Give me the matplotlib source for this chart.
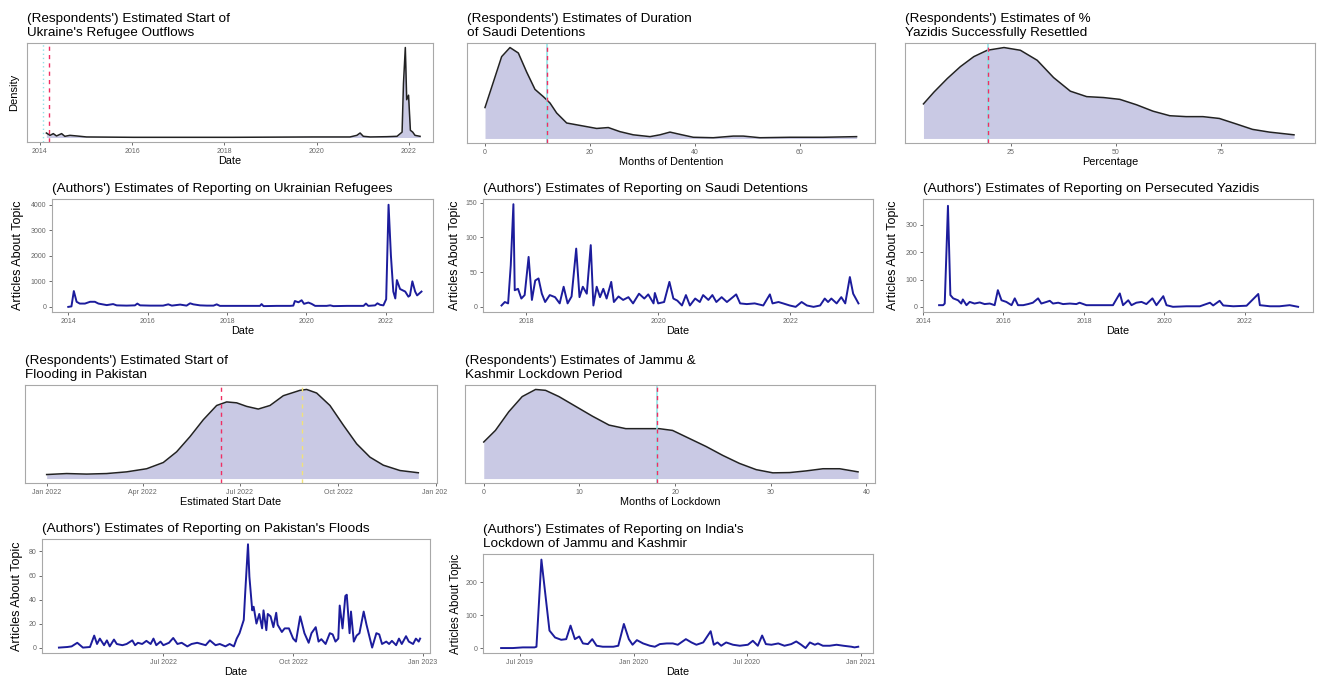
import numpy as np
import matplotlib
matplotlib.use("Agg")
import matplotlib.pyplot as plt
from matplotlib.transforms import Bbox

plt.rcParams['font.family'] = ['Liberation Sans', 'DejaVu Sans']

W, H = 1318, 681

# ---- respondents' density curves (peak scaled to 1) ----
ukr_dens_x = [2014.14, 2014.22, 2014.29, 2014.36, 2014.47, 2014.54, 2014.65, 2014.80, 2015.01, 2016.02,
              2018.19, 2019.93, 2020.72, 2020.87, 2020.94, 2021.01, 2021.16, 2021.52, 2021.74, 2021.85,
              2021.88, 2021.92, 2021.95, 2021.99, 2022.03, 2022.08, 2022.13, 2022.24]
ukr_dens_y = [0.05, 0.024, 0.043, 0.017, 0.043, 0.013, 0.024, 0.017, 0.006, 0.002,
              0.002, 0.006, 0.006, 0.024, 0.05, 0.013, 0.006, 0.009, 0.013, 0.06,
              0.6, 1.0, 0.42, 0.47, 0.08, 0.06, 0.024, 0.013]

saudi_dens_x = [0, 1.59, 3.17, 4.76, 6.35, 7.94, 9.52, 11.11, 12.38, 13.65, 15.56, 17.46, 19.37, 21.27,
                23.49, 25.71, 28.25, 31.43, 33.33, 35.24, 37.14, 39.68, 43.49, 47.3, 49.21, 52.38,
                58.1, 64.44, 70.79]
saudi_dens_y = [0.34, 0.62, 0.90, 1.0, 0.94, 0.73, 0.54, 0.46, 0.39, 0.28, 0.17, 0.15, 0.13, 0.11,
                0.12, 0.075, 0.04, 0.02, 0.04, 0.07, 0.045, 0.013, 0.008, 0.026, 0.026, 0.008,
                0.013, 0.013, 0.02]

yaz_dens_x = [4.2, 6.7, 9.9, 13.0, 16.2, 19.4, 23.4, 27.3, 31.3, 35.2, 39.2, 43.1, 47.1, 51.0,
              55.0, 58.9, 62.9, 66.8, 70.8, 74.7, 78.7, 82.6, 86.6, 92.5]
yaz_dens_y = [0.38, 0.51, 0.66, 0.79, 0.90, 0.97, 1.0, 0.97, 0.86, 0.67, 0.52, 0.46, 0.45, 0.43,
              0.37, 0.30, 0.25, 0.24, 0.24, 0.22, 0.16, 0.10, 0.07, 0.04]

# days since 2022-01-01
pak_dens_x = [0, 18.7, 37.5, 56.2, 74.9, 93.7, 109.3, 121.8, 134.3, 146.8, 159.3, 168.7, 178.0,
              187.4, 198.3, 209.3, 221.8, 237.4, 243.6, 253.0, 265.5, 278.0, 290.5, 303.0, 315.5,
              331.1, 348.3]
pak_dens_y = [0.045, 0.056, 0.05, 0.056, 0.075, 0.11, 0.18, 0.30, 0.47, 0.66, 0.82, 0.86, 0.85,
              0.81, 0.78, 0.82, 0.93, 0.99, 1.0, 0.96, 0.82, 0.60, 0.39, 0.24, 0.15, 0.09, 0.065]

kash_dens_x = [0, 1.22, 2.62, 4.02, 5.42, 6.46, 7.86, 9.61, 11.36, 13.1, 14.85, 16.6, 18.34, 19.74,
               21.49, 23.24, 24.98, 26.73, 28.48, 30.22, 31.97, 33.72, 35.46, 37.21, 39.13]
kash_dens_y = [0.41, 0.54, 0.75, 0.92, 1.0, 0.99, 0.92, 0.81, 0.70, 0.60, 0.56, 0.56, 0.56, 0.54,
               0.45, 0.36, 0.26, 0.17, 0.10, 0.064, 0.067, 0.086, 0.11, 0.11, 0.075]

# ---- authors' article counts ----
ukr_rep_x = [2014.0, 2014.08, 2014.14, 2014.21, 2014.29, 2014.42, 2014.55, 2014.67, 2014.76, 2014.97,
             2015.13, 2015.22, 2015.47, 2015.68, 2015.74, 2015.81, 2016.06, 2016.39, 2016.52, 2016.61,
             2016.82, 2016.98, 2017.07, 2017.15, 2017.32, 2017.49, 2017.66, 2017.74, 2017.82, 2018.16,
             2018.5, 2018.83, 2018.87, 2018.92, 2019.25, 2019.59, 2019.67, 2019.71, 2019.80, 2019.88,
             2019.94, 2020.05, 2020.13, 2020.22, 2020.51, 2020.60, 2020.68, 2021.02, 2021.44, 2021.50,
             2021.56, 2021.73, 2021.79, 2021.86, 2021.94, 2022.01, 2022.07, 2022.13, 2022.19, 2022.24,
             2022.28, 2022.36, 2022.49, 2022.57, 2022.61, 2022.67, 2022.74, 2022.79, 2022.90]
ukr_rep_y = [0, 20, 620, 200, 130, 130, 200, 200, 130, 70,
             110, 60, 50, 60, 130, 60, 50, 50, 100, 50,
             90, 50, 140, 100, 60, 50, 50, 100, 40, 40,
             40, 40, 110, 30, 40, 40, 50, 230, 180, 260,
             120, 170, 120, 40, 40, 60, 30, 40, 40, 130,
             40, 60, 140, 80, 60, 300, 4000, 2000, 600, 330,
             1050, 700, 600, 400, 450, 1000, 600, 450, 600]

saudi_rep_x = [2017.63, 2017.68, 2017.73, 2017.77, 2017.81, 2017.83, 2017.88, 2017.93, 2017.98, 2018.04,
               2018.09, 2018.14, 2018.19, 2018.24, 2018.29, 2018.36, 2018.44, 2018.51, 2018.57, 2018.63,
               2018.69, 2018.76, 2018.81, 2018.86, 2018.92, 2018.98, 2019.02, 2019.07, 2019.12, 2019.17,
               2019.22, 2019.29, 2019.33, 2019.40, 2019.47, 2019.55, 2019.62, 2019.71, 2019.79, 2019.85,
               2019.93, 2019.95, 2020.0, 2020.09, 2020.17, 2020.23, 2020.29, 2020.36, 2020.42, 2020.48,
               2020.56, 2020.63, 2020.68, 2020.76, 2020.82, 2020.88, 2020.96, 2021.04, 2021.13, 2021.18,
               2021.24, 2021.34, 2021.46, 2021.59, 2021.69, 2021.73, 2021.82, 2021.89, 2021.99, 2022.08,
               2022.17, 2022.25, 2022.35, 2022.45, 2022.52, 2022.57, 2022.62, 2022.70, 2022.77, 2022.83,
               2022.90, 2022.95, 2023.03]
saudi_rep_y = [2, 7, 5, 60, 148, 24, 26, 12, 17, 72,
               10, 38, 41, 19, 7, 17, 14, 5, 29, 5,
               15, 84, 14, 29, 19, 89, 2, 29, 14, 26,
               12, 36, 7, 15, 10, 14, 5, 19, 12, 18,
               5, 20, 5, 7, 36, 12, 9, 2, 17, 2,
               12, 7, 17, 10, 17, 7, 14, 7, 14, 18,
               5, 4, 5, 2, 18, 5, 7, 5, 2, 0,
               7, 2, 0, 2, 12, 7, 12, 5, 14, 5,
               43, 19, 5]

yaz_rep_x = [2014.40, 2014.50, 2014.54, 2014.62, 2014.68, 2014.75, 2014.87, 2014.95, 2014.99, 2015.08,
             2015.16, 2015.28, 2015.41, 2015.53, 2015.66, 2015.78, 2015.86, 2015.95, 2016.07, 2016.20,
             2016.28, 2016.36, 2016.49, 2016.61, 2016.73, 2016.86, 2016.94, 2017.07, 2017.15, 2017.23,
             2017.36, 2017.48, 2017.65, 2017.81, 2017.89, 2018.06, 2018.39, 2018.72, 2018.89, 2018.97,
             2019.10, 2019.18, 2019.30, 2019.43, 2019.55, 2019.70, 2019.80, 2019.97, 2020.05, 2020.21,
             2020.55, 2020.88, 2021.13, 2021.21, 2021.37, 2021.46, 2021.71, 2022.04, 2022.33, 2022.37,
             2022.62, 2022.86, 2023.11, 2023.32]
yaz_rep_y = [6, 6, 12, 370, 43, 31, 24, 12, 27, 6,
             18, 12, 16, 10, 12, 6, 61, 24, 18, 6,
             31, 6, 6, 10, 15, 31, 12, 18, 22, 12,
             15, 10, 12, 10, 15, 6, 6, 6, 49, 6,
             24, 6, 15, 18, 10, 31, 6, 39, 6, 0,
             2, 2, 15, 5, 22, 5, 2, 4, 47, 6,
             2, 2, 6, 0]

# days since 2022-01-01
pak_rep_x = [107, 113, 116, 120, 124, 129, 132, 134, 136, 139, 141, 143, 146, 148, 152, 155, 159,
             161, 163, 166, 169, 172, 174, 176, 179, 181, 185, 188, 191, 194, 198, 201, 205, 208,
             211, 214, 218, 221, 225, 228, 231, 233, 235, 238, 239, 241, 242, 244, 245, 247, 249,
             251, 252, 254, 255, 257, 259, 261, 262, 265, 267, 270, 273, 275, 278, 281, 284, 286,
             289, 291, 293, 296, 299, 301, 303, 305, 306, 308, 310, 311, 313, 314, 316, 318, 320,
             323, 325, 327, 329, 332, 334, 336, 339, 341, 343, 346, 348, 350, 353, 355, 358, 360,
             362, 363]
pak_rep_y = [0, 0.5, 1, 4, 0, 0.5, 10, 3, 7.5, 2, 6, 1, 6.7, 3, 2, 3, 6,
             2, 4, 3, 5.6, 3, 7.5, 2, 5, 2, 4, 8, 3, 4, 1, 3, 4, 3,
             2, 6, 2, 3, 1, 3, 1, 7.5, 12, 23, 45, 86, 59, 31, 34, 20, 28,
             16, 31, 14.5, 28, 26, 17, 29, 19, 13, 16, 16, 7.5, 5, 26, 12, 4, 12,
             17, 5, 7, 3, 12, 11, 5, 7.5, 35, 16, 43, 44, 12, 30, 5, 10, 12,
             30, 19, 9.5, 0, 12, 11, 3, 5, 3, 5.6, 2, 7.5, 3, 9.5, 5, 3, 7.5,
             5, 7.5]

# days since 2019-07-01
kash_rep_x = [-30, -11, 5, 24, 27, 35, 48, 57, 67, 75, 82, 89, 96, 102, 110, 117, 124, 134, 151,
              159, 168, 176, 182, 189, 199, 210, 218, 226, 237, 247, 255, 268, 277, 285, 296, 308,
              313, 319, 325, 333, 344, 355, 368, 376, 384, 391, 397, 406, 417, 427, 438, 446, 454,
              461, 468, 476, 481, 489, 500, 511, 522, 535, 540, 546]
kash_rep_y = [0, 0, 2, 2, 4, 268, 53, 32, 25, 27, 68, 27, 35, 14, 12, 27, 7, 4, 4,
              7, 73, 27, 10, 24, 14, 7, 4, 12, 14, 14, 10, 27, 17, 10, 17, 51,
              10, 17, 7, 17, 10, 7, 10, 22, 7, 38, 12, 10, 14, 7, 12, 20, 10,
              0, 17, 10, 14, 7, 7, 10, 7, 4, 2, 4]

year_ticks = [2014, 2016, 2018, 2020, 2022]
year_labels = ['2014', '2016', '2018', '2020', '2022']
pak_ticks = [0, 90, 181, 273, 365]
pak_labels = ['Jan 2022', 'Apr 2022', 'Jul 2022', 'Oct 2022', 'Jan 2023']
kash_ticks = [0, 184, 366, 550]
kash_labels = ['Jul 2019', 'Jan 2020', 'Jul 2020', 'Jan 2021']

FILL = '#c9c9e4'
BLUE = '#1c1c9c'
RED = '#ef2f62'
GREY = '#555555'


def make_ax(fig, x0, y0, x1, y1):
    ax = fig.add_axes([x0 / W, 1 - y1 / H, (x1 - x0) / W, (y1 - y0) / H])
    for s in ax.spines.values():
        s.set_color('#a8a8a8')
        s.set_linewidth(0.8)
    ax.tick_params(axis='both', length=2.5, width=0.6, color=GREY, labelsize=5,
                   labelcolor='#666666', pad=1.5)
    return ax


def style(ax, title, xlabel, ylabel=None, ylab_x=None, ylab_size=9.0):
    ax.set_title(title, loc='left', fontsize=9.7, pad=5, linespacing=1.2)
    ax.set_xlabel(xlabel, fontsize=7.8)
    h = ax.get_position().height * H
    ax.xaxis.set_label_coords(0.5, -14 / h)
    if ylabel:
        ax.set_ylabel(ylabel, fontsize=ylab_size)
        ax.yaxis.set_label_coords(ylab_x, 0.5)


def density(ax, x, y, xlim):
    ax.fill_between(x, 0, y, color=FILL, lw=0)
    ax.plot(x, y, color='#222222', lw=1.1)
    ax.set_xlim(*xlim)
    ax.set_ylim(-0.05, 1.05)
    ax.set_yticks([])


def vmark(ax, x, cyan=True):
    if cyan:
        ax.axvline(x, color='#8fe3e6', lw=1.4, alpha=0.8)
    ax.axvline(x, color=RED, lw=1.0, ls=(0, (3, 3)))


def clip_labels(ax, xmax):
    box = Bbox.from_extents(0, 0, xmax, H)
    for t in ax.get_xticklabels():
        t.set_clip_box(box)
        t.set_clip_on(True)


fig = plt.figure(figsize=(W / 100, H / 100), dpi=100)
fig.patch.set_facecolor('white')

# row 1
ax = make_ax(fig, 27, 43, 433, 142)
density(ax, ukr_dens_x, ukr_dens_y, (2013.72, 2022.52))
ax.axvline(2014.07, color='#8fe3e6', lw=1.0, ls=(0, (1, 2)))
ax.axvline(2014.2, color=RED, lw=1.0, ls=(0, (3, 3)))
ax.set_xticks(year_ticks, year_labels)
style(ax, "(Respondents') Estimated Start of\nUkraine's Refugee Outflows", 'Date', 'Density', -0.02,
      ylab_size=8.0)

ax = make_ax(fig, 467, 43, 875, 143)
density(ax, saudi_dens_x, saudi_dens_y, (-3.43, 74.3))
vmark(ax, 11.8)
ax.set_xticks([0, 20, 40, 60])
style(ax, "(Respondents') Estimates of Duration\nof Saudi Detentions", 'Months of Dentention')

ax = make_ax(fig, 905, 43, 1315, 143)
density(ax, yaz_dens_x, yaz_dens_y, (-0.2, 97.5))
vmark(ax, 19.5)
ax.set_xticks([25, 50, 75])
style(ax, "(Respondents') Estimates of %\nYazidis Successfully Resettled", 'Percentage')

# row 2
ax = make_ax(fig, 52, 199, 433, 312)
ax.plot(ukr_rep_x, ukr_rep_y, color=BLUE, lw=1.4)
ax.set_xlim(2013.59, 2023.19)
ax.set_ylim(-200, 4225)
ax.set_xticks(year_ticks, year_labels)
ax.set_yticks([0, 1000, 2000, 3000, 4000])
style(ax, "(Authors') Estimates of Reporting on Ukrainian Refugees", 'Date', 'Articles About Topic', -0.073)

ax = make_ax(fig, 483, 199, 873, 312)
ax.plot(saudi_rep_x, saudi_rep_y, color=BLUE, lw=1.4)
ax.set_xlim(2017.35, 2023.25)
ax.set_ylim(-7.4, 155.5)
ax.set_xticks([2018, 2020, 2022], ['2018', '2020', '2022'])
ax.set_yticks([0, 50, 100, 150])
style(ax, "(Authors') Estimates of Reporting on Saudi Detentions", 'Date', 'Articles About Topic', -0.056)

ax = make_ax(fig, 923, 199, 1313, 312)
ax.plot(yaz_rep_x, yaz_rep_y, color=BLUE, lw=1.4)
ax.set_xlim(2014.0, 2023.69)
ax.set_ylim(-19, 395)
ax.set_xticks(year_ticks, year_labels)
ax.set_yticks([0, 100, 200, 300])
style(ax, "(Authors') Estimates of Reporting on Persecuted Yazidis", 'Date', 'Articles About Topic', -0.062)

# row 3
ax = make_ax(fig, 25, 385, 437, 483)
density(ax, pak_dens_x, pak_dens_y, (-20.3, 365.8))
ax.axvline(239, color='#f1e27a', lw=1.0, ls=(0, (3, 3)))
vmark(ax, 163, cyan=False)
ax.set_xticks(pak_ticks, pak_labels)
style(ax, "(Respondents') Estimated Start of\nFlooding in Pakistan", 'Estimated Start Date')
clip_labels(ax, 447)

ax = make_ax(fig, 465, 385, 875, 483)
density(ax, kash_dens_x, kash_dens_y, (-1.96, 40.9))
vmark(ax, 18.1)
ax.set_xticks([0, 10, 20, 30, 40])
style(ax, "(Respondents') Estimates of Jammu &\nKashmir Lockdown Period", 'Months of Lockdown')

# row 4
ax = make_ax(fig, 42, 539, 430, 653)
ax.plot(pak_rep_x, pak_rep_y, color=BLUE, lw=1.4)
ax.set_xlim(95, 370)
ax.set_ylim(-4.5, 90.4)
ax.set_xticks(pak_ticks[2:], pak_labels[2:])
ax.set_yticks([0, 20, 40, 60, 80])
style(ax, "(Authors') Estimates of Reporting on Pakistan's Floods", 'Date', 'Articles About Topic', -0.05)
clip_labels(ax, 437)

ax = make_ax(fig, 483, 554, 873, 653)
ax.plot(kash_rep_x, kash_rep_y, color=BLUE, lw=1.4)
ax.set_xlim(-59.2, 569.8)
ax.set_ylim(-15, 285)
ax.set_xticks(kash_ticks, kash_labels)
ax.set_yticks([0, 100, 200])
style(ax, "(Authors') Estimates of Reporting on India's\nLockdown of Jammu and Kashmir", 'Date',
      'Articles About Topic', -0.053, ylab_size=8.3)
clip_labels(ax, 877)

fig.savefig('out.png', dpi=100, facecolor='white')
